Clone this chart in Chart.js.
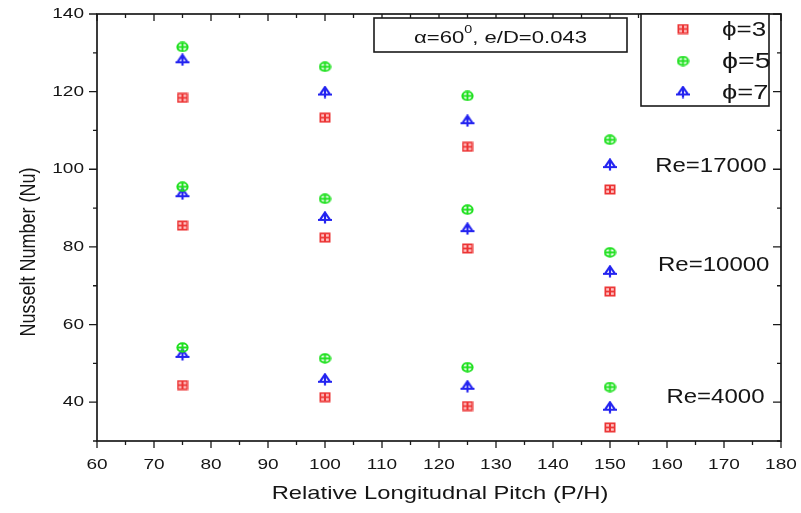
<!DOCTYPE html>
<html>
<head>
<meta charset="utf-8">
<script src="https://cdn.jsdelivr.net/npm/chart.js@4.4.1/dist/chart.umd.min.js"></script>
<style>
  html, body { margin: 0; padding: 0; background: #fff; }
</style>
</head>
<body>
<canvas id="myChart" width="801" height="513"></canvas>
<script>
// Data
const pitch = [75, 100, 125, 150];
const seriesLabels = ['ϕ=3', 'ϕ=5', 'ϕ=7'];
const reLabels = ['Re=17000', 'Re=10000', 'Re=4000'];

const phi3Re17000 = [118.4, 113.3, 105.8, 94.8];
const phi3Re10000 = [85.5, 82.4, 79.6, 68.5];
const phi3Re4000 = [44.4, 41.3, 39.0, 33.5];

const phi5Re17000 = [131.5, 126.4, 118.9, 107.6];
const phi5Re10000 = [95.5, 92.4, 89.6, 78.6];
const phi5Re4000 = [54.1, 51.3, 49.0, 43.9];

const phi7Re17000 = [128.2, 119.9, 112.5, 101.2];
const phi7Re10000 = [93.7, 87.6, 84.7, 73.7];
const phi7Re4000 = [52.3, 45.9, 44.1, 38.7];

const FONT = '"Liberation Sans", Arial, sans-serif';
const TEXT = '#151515';

// turn the pitch + values into scatter points
function toPoints(...groups) {
    const pts = [];
    groups.forEach(g => g.forEach((v, i) => pts.push({ x: pitch[i], y: v })));
    return pts;
}

// marker images (the source figure is a bit wider than tall)
function makeSquare() {
    const c = document.createElement('canvas');
    c.width = 12; c.height = 11;
    const g = c.getContext('2d');
    g.fillStyle = '#ec3434';
    g.fillRect(0.5, 0.5, 11, 10);
    g.fillStyle = '#ffc4c4';
    g.fillRect(2.2, 2.2, 2.8, 2.4);
    g.fillRect(7, 2.2, 2.8, 2.4);
    g.fillRect(2.2, 6.4, 2.8, 2.4);
    g.fillRect(7, 6.4, 2.8, 2.4);
    return c;
}

function makeCircle() {
    const c = document.createElement('canvas');
    c.width = 13; c.height = 11;
    const g = c.getContext('2d');
    g.strokeStyle = '#1ee01e';
    g.lineWidth = 1.9;
    g.beginPath();
    g.ellipse(6.5, 5.5, 5.2, 4.3, 0, 0, Math.PI * 2);
    g.moveTo(1.3, 5.5); g.lineTo(11.7, 5.5);
    g.moveTo(6.5, 1.2); g.lineTo(6.5, 9.8);
    g.stroke();
    return c;
}

function makeTriangle() {
    const c = document.createElement('canvas');
    c.width = 16; c.height = 13;
    const g = c.getContext('2d');
    g.strokeStyle = '#2323f0';
    g.lineWidth = 2.2;
    g.beginPath();
    g.moveTo(8, 1.5); g.lineTo(13, 9); g.lineTo(3, 9); g.closePath();
    g.moveTo(1, 9); g.lineTo(15, 9);
    g.moveTo(8, 1.5); g.lineTo(8, 12.5);
    g.stroke();
    return c;
}

const markers = [makeSquare(), makeCircle(), makeTriangle()];

// draws text stretched sideways like the original figure
function wideText(ctx, text, x, y, align, sx) {
    ctx.save();
    ctx.translate(x, y);
    ctx.scale(sx, 1);
    ctx.textAlign = align;
    ctx.fillText(text, 0, 0);
    ctx.restore();
}

// frame, ticks, labels and notes
const decorPlugin = {
    id: 'decor',
    beforeDatasetsDraw(chart) {
        const { ctx, chartArea: a, scales } = chart;
        ctx.save();
        ctx.strokeStyle = '#1a1a1a';
        ctx.lineWidth = 1.7;
        ctx.strokeRect(a.left, a.top, a.right - a.left, a.bottom - a.top);

        ctx.lineWidth = 1.3;
        ctx.beginPath();
        scales.x.ticks.forEach(t => {
            const px = scales.x.getPixelForValue(t.value);
            const len = t.value % 10 === 0 ? 7 : 4;
            ctx.moveTo(px, a.bottom); ctx.lineTo(px, a.bottom + len);
            ctx.moveTo(px, a.top); ctx.lineTo(px, a.top + len);
        });
        scales.y.ticks.forEach(t => {
            const py = scales.y.getPixelForValue(t.value);
            const len = t.value % 20 === 0 ? 8 : 4;
            ctx.moveTo(a.left, py); ctx.lineTo(a.left - len, py);
            ctx.moveTo(a.right, py); ctx.lineTo(a.right - len, py);
        });
        ctx.stroke();

        // tick labels
        ctx.fillStyle = TEXT;
        ctx.font = '15px ' + FONT;
        ctx.textBaseline = 'middle';
        scales.x.ticks.forEach(t => {
            if (t.value % 10 !== 0) return;
            wideText(ctx, String(t.value), scales.x.getPixelForValue(t.value), 465, 'center', 1.27);
        });
        scales.y.ticks.forEach(t => {
            if (t.value % 20 !== 0) return;
            wideText(ctx, String(t.value), a.left - 13, scales.y.getPixelForValue(t.value), 'right', 1.27);
        });

        // axis titles
        ctx.font = '19px ' + FONT;
        wideText(ctx, 'Relative Longitudnal Pitch (P/H)', 440, 494, 'center', 1.25);
        ctx.save();
        ctx.translate(29, 252);
        ctx.rotate(-Math.PI / 2);
        ctx.scale(1, 1.2);
        ctx.font = '18px ' + FONT;
        ctx.textAlign = 'center';
        ctx.fillText('Nusselt Number (Nu)', 0, 0);
        ctx.restore();
        ctx.restore();
    },
    afterDraw(chart) {
        const { ctx, chartArea: a, scales } = chart;
        ctx.save();
        ctx.fillStyle = TEXT;
        ctx.strokeStyle = '#1a1a1a';

        // Re notes, placed in data units
        ctx.font = '20px ' + FONT;
        ctx.textBaseline = 'middle';
        const rePos = [[167.7, 100.7], [168.2, 75.3], [168.5, 41.1]];
        reLabels.forEach((txt, i) => {
            wideText(ctx, txt, scales.x.getPixelForValue(rePos[i][0]), scales.y.getPixelForValue(rePos[i][1]), 'center', 1.2);
        });

        // parameter box
        const bx = 374, by = 18, bw = 253, bh = 34;
        ctx.fillStyle = '#fff';
        ctx.fillRect(bx, by, bw, bh);
        ctx.lineWidth = 1.6;
        ctx.strokeRect(bx, by, bw, bh);
        ctx.fillStyle = TEXT;
        ctx.textBaseline = 'alphabetic';
        const sx = 1.3;
        ctx.font = '17px ' + FONT;
        const p1 = 'α=60', p3 = ', e/D=0.043';
        const w1 = ctx.measureText(p1).width * sx;
        const w3 = ctx.measureText(p3).width * sx;
        ctx.font = '11px ' + FONT;
        const w2 = ctx.measureText('0').width * sx;
        let x0 = bx + bw / 2 - (w1 + w2 + w3) / 2;
        ctx.font = '17px ' + FONT;
        wideText(ctx, p1, x0, 43, 'left', sx);
        ctx.font = '11px ' + FONT;
        wideText(ctx, '0', x0 + w1, 33, 'left', sx);
        ctx.font = '17px ' + FONT;
        wideText(ctx, p3, x0 + w1 + w2, 43, 'left', sx);

        // legend box
        const lx = 641, ly = a.top, lw = 128, lh = 92;
        ctx.fillStyle = '#fff';
        ctx.fillRect(lx, ly, lw, lh);
        ctx.strokeRect(lx, ly, lw, lh);
        ctx.fillStyle = TEXT;
        ctx.textBaseline = 'middle';
        const rows = [29, 61, 92];
        const sizes = [20, 22, 21];
        chart.data.datasets.forEach((ds, i) => {
            const img = ds.pointStyle;
            ctx.drawImage(img, 683 - img.width / 2, rows[i] - img.height / 2);
            ctx.font = sizes[i] + 'px ' + FONT;
            wideText(ctx, ds.label, 722, rows[i] + 1, 'left', 1.3);
        });
        ctx.restore();
    }
};

new Chart(document.getElementById('myChart').getContext('2d'), {
    type: 'scatter',
    data: {
        datasets: [
            { label: seriesLabels[0], data: toPoints(phi3Re17000, phi3Re10000, phi3Re4000), pointStyle: markers[0] },
            { label: seriesLabels[1], data: toPoints(phi5Re17000, phi5Re10000, phi5Re4000), pointStyle: markers[1] },
            { label: seriesLabels[2], data: toPoints(phi7Re17000, phi7Re10000, phi7Re4000), pointStyle: markers[2] }
        ]
    },
    options: {
        responsive: false,
        animation: false,
        layout: { padding: { top: 14, right: 20, left: 0, bottom: 0 } },
        plugins: {
            legend: { display: false },
            tooltip: { enabled: false }
        },
        scales: {
            x: {
                type: 'linear',
                min: 60, max: 180,
                ticks: { stepSize: 5, display: false },
                grid: { display: false },
                border: { display: false },
                afterFit: s => { s.height = 72; }
            },
            y: {
                min: 30, max: 140,
                ticks: { stepSize: 10, display: false },
                grid: { display: false },
                border: { display: false },
                afterFit: s => { s.width = 97; }
            }
        }
    },
    plugins: [decorPlugin]
});
</script>
</body>
</html>
